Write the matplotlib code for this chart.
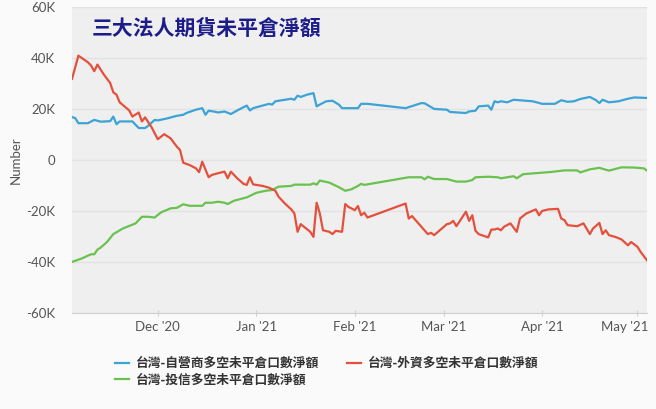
import matplotlib
matplotlib.use("Agg")
import matplotlib.pyplot as plt
import matplotlib.dates as mdates
import matplotlib.transforms as mtransforms
import pandas as pd

# ===== 資料 (數值為 K 口) =====
dealer_dates = ['2020-11-04', '2020-11-05', '2020-11-06', '2020-11-09', '2020-11-11', '2020-11-13',
                '2020-11-16', '2020-11-17', '2020-11-18', '2020-11-19', '2020-11-23', '2020-11-24',
                '2020-11-25', '2020-11-27', '2020-11-28', '2020-11-30', '2020-12-01', '2020-12-04',
                '2020-12-07', '2020-12-09', '2020-12-10', '2020-12-13', '2020-12-15', '2020-12-16',
                '2020-12-17', '2020-12-19', '2020-12-20', '2020-12-22', '2020-12-24', '2020-12-26',
                '2020-12-28', '2020-12-29', '2020-12-30', '2020-12-31', '2021-01-05', '2021-01-06',
                '2021-01-07', '2021-01-12', '2021-01-13', '2021-01-14', '2021-01-15', '2021-01-17',
                '2021-01-19', '2021-01-20', '2021-01-21', '2021-01-23', '2021-01-25', '2021-01-27',
                '2021-01-28', '2021-02-02', '2021-02-03', '2021-02-05', '2021-02-17', '2021-02-22',
                '2021-02-23', '2021-02-26', '2021-03-02', '2021-03-03', '2021-03-08', '2021-03-09',
                '2021-03-11', '2021-03-12', '2021-03-15', '2021-03-16', '2021-03-17', '2021-03-18',
                '2021-03-19', '2021-03-21', '2021-03-23', '2021-03-29', '2021-04-01', '2021-04-05',
                '2021-04-07', '2021-04-09', '2021-04-11', '2021-04-13', '2021-04-16', '2021-04-18',
                '2021-04-19', '2021-04-20', '2021-04-22', '2021-04-25', '2021-04-28', '2021-04-30',
                '2021-05-04']
dealer = [16.8, 16.4, 14.4, 14.4, 15.7, 15.0, 15.2, 17.0, 14.0, 15.1, 15.1, 13.8,
          12.5, 12.5, 13.4, 15.7, 15.5, 16.3, 17.3, 17.7, 18.4, 19.7, 20.3, 17.7,
          19.3, 18.9, 18.6, 19.0, 18.0, 19.4, 20.7, 21.3, 19.4, 20.3, 22.0, 21.7,
          23.0, 24.0, 23.6, 25.2, 24.7, 25.6, 26.2, 21.0, 21.7, 23.0, 23.2, 21.7,
          20.3, 20.3, 22.0, 22.0, 20.3, 22.3, 22.2, 20.0, 19.7, 18.8, 18.4, 19.0,
          19.3, 21.0, 21.3, 19.7, 23.0, 22.6, 23.0, 22.6, 23.6, 23.0, 22.0, 22.0,
          23.4, 22.8, 23.0, 23.9, 24.7, 23.4, 22.3, 23.6, 22.6, 23.0, 24.0, 24.5,
          24.3]

foreign_dates = ['2020-11-04', '2020-11-06', '2020-11-09', '2020-11-10', '2020-11-11', '2020-11-12',
                 '2020-11-14', '2020-11-16', '2020-11-17', '2020-11-18', '2020-11-19', '2020-11-22',
                 '2020-11-23', '2020-11-25', '2020-11-26', '2020-11-27', '2020-11-29', '2020-12-01',
                 '2020-12-03', '2020-12-05', '2020-12-07', '2020-12-08', '2020-12-09', '2020-12-11',
                 '2020-12-13', '2020-12-14', '2020-12-15', '2020-12-17', '2020-12-18', '2020-12-20',
                 '2020-12-22', '2020-12-23', '2020-12-24', '2020-12-26', '2020-12-28', '2020-12-29',
                 '2020-12-30', '2020-12-31', '2021-01-03', '2021-01-05', '2021-01-07', '2021-01-08',
                 '2021-01-10', '2021-01-12', '2021-01-13', '2021-01-14', '2021-01-15', '2021-01-16',
                 '2021-01-18', '2021-01-19', '2021-01-20', '2021-01-21', '2021-01-22', '2021-01-24',
                 '2021-01-25', '2021-01-26', '2021-01-28', '2021-01-29', '2021-01-30', '2021-02-01',
                 '2021-02-02', '2021-02-03', '2021-02-04', '2021-02-05', '2021-02-17', '2021-02-18',
                 '2021-02-19', '2021-02-24', '2021-02-25', '2021-02-26', '2021-03-02', '2021-03-03',
                 '2021-03-04', '2021-03-05', '2021-03-08', '2021-03-09', '2021-03-10', '2021-03-11',
                 '2021-03-12', '2021-03-15', '2021-03-16', '2021-03-17', '2021-03-18', '2021-03-19',
                 '2021-03-20', '2021-03-22', '2021-03-24', '2021-03-25', '2021-03-27', '2021-03-30',
                 '2021-03-31', '2021-04-01', '2021-04-03', '2021-04-06', '2021-04-07', '2021-04-08',
                 '2021-04-09', '2021-04-12', '2021-04-14', '2021-04-16', '2021-04-17', '2021-04-19',
                 '2021-04-20', '2021-04-21', '2021-04-22', '2021-04-24', '2021-04-26', '2021-04-28',
                 '2021-04-29', '2021-05-01', '2021-05-02', '2021-05-04']
foreign = [31.8, 40.9, 38.3, 37.0, 34.8, 37.4, 33.5, 30.2, 26.5, 25.6, 22.6, 19.4,
           17.0, 18.6, 15.1, 16.7, 12.9, 8.1, 10.1, 8.5, 5.2, 3.9, -1.1, -2.0,
           -3.3, -4.8, -0.7, -6.8, -5.9, -5.2, -4.6, -7.2, -4.6, -7.2, -9.4, -9.8,
           -6.8, -9.6, -10.2, -10.9, -12.1, -14.4, -17.1, -19.4, -21.0, -28.2, -25.2, -26.2,
           -28.2, -30.2, -16.8, -21.0, -27.6, -28.2, -29.1, -27.8, -28.2, -17.3, -18.4, -19.7,
           -18.1, -21.7, -20.7, -22.6, -17.1, -23.0, -22.0, -29.1, -28.6, -29.5, -25.2, -24.9,
           -23.9, -26.0, -20.3, -23.9, -21.7, -27.8, -29.1, -30.4, -27.3, -27.3, -26.9, -27.6,
           -26.2, -24.9, -28.2, -23.0, -21.0, -19.4, -21.7, -20.0, -19.4, -19.2, -23.0, -23.6,
           -25.6, -26.0, -24.9, -29.1, -26.9, -24.7, -29.1, -27.6, -29.5, -30.2, -31.2, -33.5,
           -32.2, -34.1, -36.1, -39.4]

trust_dates = ['2020-11-04', '2020-11-07', '2020-11-10', '2020-11-11', '2020-11-12', '2020-11-13',
               '2020-11-15', '2020-11-17', '2020-11-20', '2020-11-22', '2020-11-24', '2020-11-26',
               '2020-11-28', '2020-11-30', '2020-12-02', '2020-12-05', '2020-12-07', '2020-12-09',
               '2020-12-11', '2020-12-15', '2020-12-16', '2020-12-18', '2020-12-20', '2020-12-22',
               '2020-12-23', '2020-12-25', '2020-12-29', '2021-01-01', '2021-01-04', '2021-01-06',
               '2021-01-08', '2021-01-12', '2021-01-13', '2021-01-18', '2021-01-19', '2021-01-20',
               '2021-01-21', '2021-01-24', '2021-01-27', '2021-01-29', '2021-01-31', '2021-02-02',
               '2021-02-03', '2021-02-04', '2021-02-18', '2021-02-22', '2021-02-23', '2021-02-24',
               '2021-02-26', '2021-03-02', '2021-03-05', '2021-03-08', '2021-03-10', '2021-03-11',
               '2021-03-15', '2021-03-18', '2021-03-19', '2021-03-22', '2021-03-23', '2021-03-24',
               '2021-03-26', '2021-03-30', '2021-04-04', '2021-04-08', '2021-04-12', '2021-04-13',
               '2021-04-16', '2021-04-19', '2021-04-22', '2021-04-26', '2021-04-30', '2021-05-03',
               '2021-05-04']
trust = [-40.0, -38.7, -37.0, -37.0, -35.2, -34.4, -32.2, -29.1, -26.9, -25.9, -24.9, -22.3,
         -22.3, -22.6, -20.6, -19.0, -18.8, -17.4, -18.0, -18.0, -16.8, -16.8, -16.4, -16.8,
         -17.3, -16.0, -14.7, -12.9, -12.1, -11.8, -10.5, -10.2, -9.7, -9.7, -9.2, -9.7,
         -8.1, -8.9, -10.7, -12.1, -11.5, -10.2, -9.4, -9.8, -6.8, -6.8, -7.6, -6.6,
         -7.5, -7.5, -8.5, -8.5, -7.9, -6.8, -6.6, -6.8, -7.2, -6.6, -6.4, -7.2,
         -5.6, -5.2, -4.7, -4.1, -4.1, -4.9, -3.7, -3.1, -4.2, -2.9, -3.0, -3.3,
         -4.2]

labels = ['台灣-自營商多空未平倉口數淨額', '台灣-投信多空未平倉口數淨額', '台灣-外資多空未平倉口數淨額']
colors = ['#3ba3d6', '#69c24f', '#e4503c']
yticks = [-60, -40, -20, 0, 20, 40, 60]
ytick_labels = ['-60K', '-40K', '-20K', '0', '20K', '40K', '60K']
title = '三大法人期貨未平倉淨額'

plt.rcParams['font.family'] = ['Lato', 'Noto Sans CJK TC', 'DejaVu Sans']

fig = plt.figure(figsize=(6.56, 4.09), dpi=100, facecolor='#fafafa')
ax = fig.add_axes([0.1098, 0.235, 0.8765, 0.748])
ax.set_facecolor('#efefef')

series = [(dealer_dates, dealer), (trust_dates, trust), (foreign_dates, foreign)]
for (d, v), lab, c in zip(series, labels, colors):
    ax.plot(pd.to_datetime(d), [x * 1000 for x in v], color=c, lw=1.6, label=lab)

ax.set_xlim(pd.Timestamp('2020-11-04'), pd.Timestamp('2021-05-04'))
ax.set_ylim(-60000, 60000)
ax.set_yticks([t * 1000 for t in yticks])
ax.set_yticklabels(ytick_labels)
ax.grid(axis='y', color='#e2e2e2', lw=1)
ax.set_axisbelow(True)

ax.xaxis.set_major_locator(mdates.MonthLocator())
ax.xaxis.set_major_formatter(mdates.DateFormatter("%b '%y"))
ax.tick_params(axis='x', colors='#d0d0d0', labelcolor='#555555', labelsize=9.5, length=5, direction='inout')
ax.tick_params(axis='y', length=0, labelcolor='#555555', labelsize=9.5, pad=12)

for s in ['top', 'right', 'left']:
    ax.spines[s].set_visible(False)
ax.spines['bottom'].set_color('#d0d0d0')

ax.set_ylabel('Number', color='#555555', fontsize=9.5, labelpad=3)

ax.text(0.035, 0.93, title, transform=ax.transAxes, fontsize=15, fontweight='bold',
        color='#1c1c8a', family=['Noto Sans CJK TC', 'DejaVu Sans'], va='center')

leg = fig.legend(loc='upper left', bbox_to_anchor=(0.158, 0.155), ncol=2, frameon=False,
                 handlelength=1.1, handletextpad=0.5, columnspacing=2.2, labelspacing=0.3,
                 prop={'family': ['Noto Sans CJK TC', 'DejaVu Sans'], 'weight': 'bold', 'size': 9.2})
for t in leg.get_texts():
    t.set_color('#333333')

# 最後一個月份標籤向左靠, 避免被切掉
fig.canvas.draw()
last = ax.get_xticklabels()[-1]
last.set_horizontalalignment('right')
last.set_transform(last.get_transform() + mtransforms.ScaledTranslation(8 / 72, 0, fig.dpi_scale_trans))

fig.savefig('out.png', dpi=100, facecolor=fig.get_facecolor())
